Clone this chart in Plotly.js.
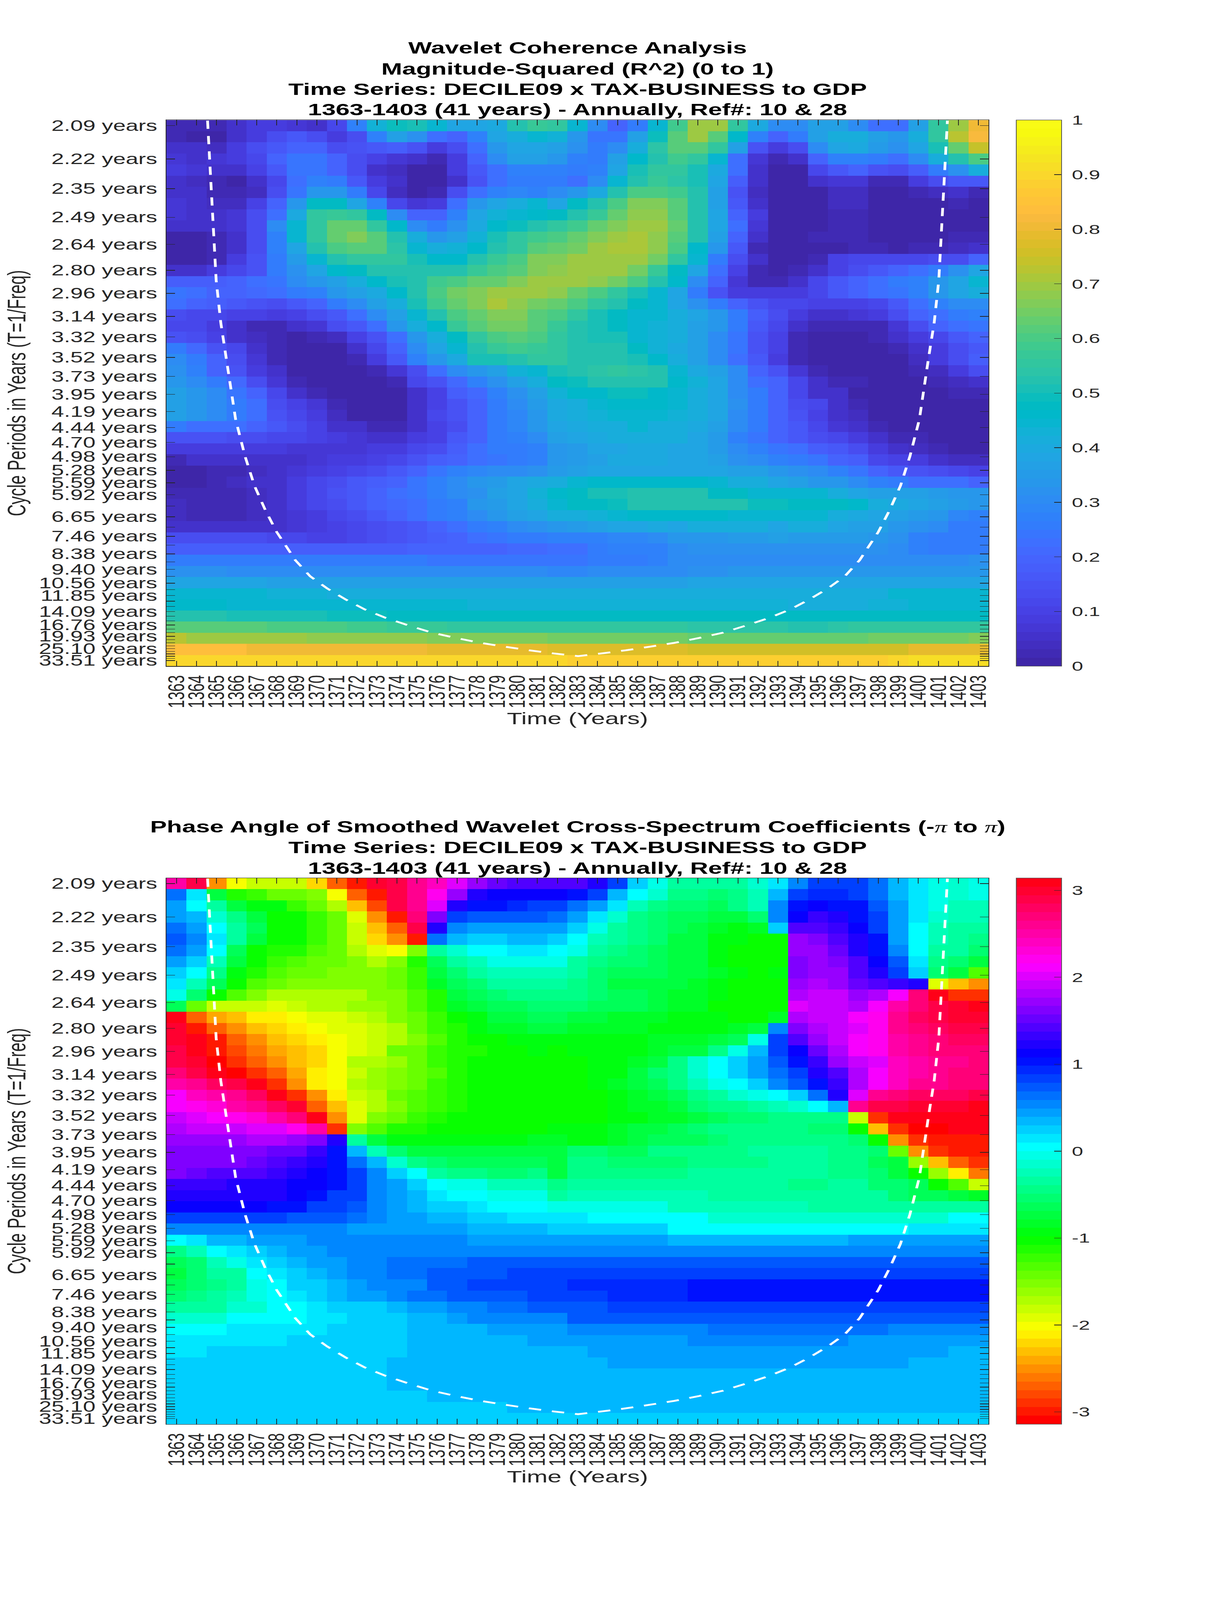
<!DOCTYPE html>
<html><head><meta charset="utf-8">
<script src="https://cdn.plot.ly/plotly-3.0.1.min.js"></script>
<style>html,body{margin:0;padding:0;background:#fff;overflow:hidden}#chart{width:3125px;height:6252px;transform-origin:0 0}</style>
</head><body><div id="chart"></div>
<script>
const years=[1363,1364,1365,1366,1367,1368,1369,1370,1371,1372,1373,1374,1375,1376,1377,1378,1379,1380,1381,1382,1383,1384,1385,1386,1387,1388,1389,1390,1391,1392,1393,1394,1395,1396,1397,1398,1399,1400,1401,1402,1403];
const periods=[2.09,2.22,2.35,2.49,2.64,2.80,2.96,3.14,3.32,3.52,3.73,3.95,4.19,4.44,4.70,4.98,5.28,5.59,5.92,6.27,6.65,7.05,7.46,7.90,8.38,8.88,9.40,9.96,10.56,11.19,11.85,12.55,13.30,14.09,14.93,15.82,16.76,17.76,18.80,19.93,21.12,22.38,23.70,25.10,26.60,28.18,29.86,31.63,33.51];
const periodLabels=["2.09 years","2.22 years","2.35 years","2.49 years","2.64 years","2.80 years","2.96 years","3.14 years","3.32 years","3.52 years","3.73 years","3.95 years","4.19 years","4.44 years","4.70 years","4.98 years","5.28 years","5.59 years","5.92 years","","6.65 years","","7.46 years","","8.38 years","","9.40 years","","10.56 years","","11.85 years","","","14.09 years","","","16.76 years","","","19.93 years","","","","25.10 years","","","","","33.51 years"];
const coiYears=[1364.55,1364.84,1364.98,1365.21,1365.48,1365.95,1366.42,1366.89,1367.43,1368.0,1368.93,1369.67,1370.51,1371.45,1372.38,1373.42,1374.62,1375.74,1376.94,1378.17,1379.38,1380.59,1381.8,1383.03,1384.2,1385.41,1386.62,1387.83,1389.06,1390.26,1391.38,1392.58,1393.62,1394.55,1395.49,1396.33,1397.07,1398.0,1398.57,1399.11,1399.58,1400.05,1400.52,1400.79,1401.02,1401.16,1401.45];
const coiPeriods=[2.072,2.543,2.867,3.193,3.511,4.309,4.971,5.667,6.407,7.266,8.77,9.95,11.06,12.35,13.73,15.21,16.93,18.77,20.5,22.37,24.1,26.0,27.9,29.8,27.9,26.0,24.1,22.37,20.5,18.77,16.93,15.21,13.73,12.35,11.06,9.95,8.77,7.266,6.407,5.667,4.971,4.309,3.511,3.193,2.867,2.543,2.072];
const coherence=[
[.02,.02,.02,.05,.08,.09,.07,.06,.12,.27,.43,.49,.5,.44,.38,.38,.4,.52,.57,.55,.45,.31,.2,.25,.45,.58,.7,.7,.56,.4,.3,.3,.36,.36,.3,.22,.22,.36,.56,.7,.8],
[.02,0,.01,.05,.08,.14,.17,.14,.09,.14,.28,.37,.32,.23,.2,.27,.38,.42,.44,.43,.33,.24,.24,.36,.49,.62,.7,.62,.46,.28,.2,.25,.37,.42,.42,.36,.33,.42,.56,.72,.82],
[.05,.05,.04,.08,.13,.17,.2,.2,.14,.15,.16,.18,.15,.09,.13,.22,.34,.38,.38,.36,.32,.25,.3,.42,.54,.62,.62,.55,.36,.15,.08,.14,.3,.38,.4,.35,.32,.38,.5,.63,.74],
[.07,.06,.07,.08,.12,.2,.24,.24,.19,.13,.1,.07,.05,.02,.09,.2,.3,.36,.36,.33,.28,.26,.36,.46,.53,.58,.55,.45,.23,.07,.03,.06,.2,.27,.27,.25,.22,.3,.42,.53,.6],
[.08,.07,.06,.06,.1,.17,.24,.24,.2,.14,.06,.04,0,0,.08,.17,.23,.27,.27,.28,.26,.27,.39,.5,.55,.55,.5,.4,.22,.05,0,.01,.11,.17,.19,.15,.13,.18,.25,.32,.42],
[.05,.04,.03,.01,.05,.11,.22,.27,.26,.17,.09,.05,0,0,.06,.15,.22,.25,.25,.25,.22,.3,.44,.53,.57,.54,.5,.38,.18,.05,0,.01,.05,.07,.07,.03,.03,.08,.13,.17,.17],
[.06,.05,.03,.03,.04,.13,.24,.34,.34,.25,.12,.04,0,.03,.13,.23,.27,.29,.28,.3,.34,.4,.52,.6,.6,.59,.52,.37,.15,.04,0,0,.01,.04,.04,.01,.01,.02,.04,.05,.03],
[.07,.05,.04,.04,.1,.2,.33,.47,.47,.38,.28,.12,.07,.08,.22,.33,.38,.42,.44,.38,.47,.52,.6,.66,.66,.62,.52,.37,.17,.06,0,0,.01,.04,.04,.01,.01,.01,.01,.03,.01],
[.07,.05,.05,.07,.13,.23,.4,.55,.57,.55,.47,.3,.2,.2,.28,.38,.43,.45,.46,.47,.53,.57,.64,.68,.68,.62,.53,.38,.2,.08,0,0,.01,.02,.02,.01,0,0,.01,0,0],
[.05,.05,.05,.07,.14,.3,.45,.56,.64,.64,.56,.46,.3,.25,.32,.4,.46,.49,.52,.55,.58,.64,.67,.69,.69,.63,.53,.38,.23,.07,0,0,.01,.02,.02,.01,0,0,0,0,0],
[0,0,.02,.05,.14,.28,.45,.55,.64,.66,.62,.53,.42,.33,.36,.43,.5,.55,.58,.6,.64,.66,.7,.71,.68,.62,.53,.37,.2,.05,0,0,.02,.02,.02,.01,0,0,.01,.02,.03],
[0,0,.02,.05,.14,.28,.38,.52,.6,.62,.62,.54,.45,.42,.43,.46,.53,.56,.62,.63,.65,.69,.71,.71,.68,.6,.46,.33,.17,.03,0,0,.01,.01,.03,.03,.01,.02,.03,.04,.05],
[.01,.01,.02,.08,.15,.25,.35,.45,.52,.56,.56,.55,.5,.46,.46,.52,.57,.6,.66,.66,.69,.7,.7,.69,.65,.55,.44,.26,.13,.05,.01,0,.03,.1,.11,.11,.11,.11,.14,.14,.2],
[.05,.05,.08,.12,.15,.25,.32,.39,.46,.47,.53,.53,.53,.53,.52,.57,.6,.62,.67,.68,.7,.7,.7,.65,.57,.47,.38,.23,.1,.03,0,.02,.06,.1,.14,.17,.2,.22,.25,.32,.38],
[.18,.18,.18,.2,.22,.24,.3,.33,.37,.41,.46,.5,.53,.58,.6,.64,.64,.66,.69,.7,.7,.68,.65,.6,.52,.46,.3,.2,.07,.03,.03,.06,.12,.17,.2,.22,.25,.27,.33,.38,.45],
[.24,.22,.2,.2,.21,.23,.26,.28,.33,.36,.4,.46,.53,.6,.65,.67,.69,.7,.69,.68,.63,.6,.56,.5,.45,.38,.25,.15,.09,.08,.08,.09,.12,.17,.2,.22,.24,.28,.34,.38,.42],
[.23,.2,.18,.16,.15,.14,.17,.2,.25,.3,.36,.42,.5,.58,.64,.67,.71,.68,.65,.64,.6,.55,.52,.48,.44,.38,.32,.25,.2,.15,.12,.12,.1,.1,.1,.12,.17,.23,.27,.3,.3],
[.13,.12,.12,.1,.1,.09,.1,.13,.16,.23,.31,.36,.44,.53,.6,.63,.66,.66,.62,.6,.55,.5,.48,.45,.44,.42,.38,.33,.26,.18,.13,.09,.06,.06,.07,.09,.13,.2,.23,.26,.28],
[.11,.11,.08,.05,.03,.03,.05,.07,.13,.17,.23,.33,.41,.46,.57,.62,.65,.65,.62,.57,.52,.5,.47,.44,.43,.41,.37,.33,.26,.17,.12,.05,.02,.02,.02,.03,.07,.13,.19,.22,.24],
[.15,.13,.1,.06,.04,.02,.01,.02,.04,.1,.15,.23,.34,.41,.47,.55,.6,.62,.6,.55,.52,.5,.5,.44,.43,.41,.37,.3,.24,.15,.1,.03,.01,0,0,.02,.05,.08,.12,.17,.2],
[.26,.21,.15,.11,.05,.02,0,0,.01,.05,.12,.2,.3,.38,.45,.53,.57,.58,.57,.55,.53,.53,.53,.47,.43,.4,.36,.3,.24,.15,.1,.03,0,0,0,.01,.03,.06,.09,.13,.17],
[.3,.25,.2,.14,.07,.03,.01,0,0,.02,.08,.17,.27,.33,.4,.5,.5,.52,.55,.55,.53,.53,.53,.5,.46,.42,.37,.3,.23,.17,.09,.03,0,0,0,0,.01,.04,.08,.13,.18],
[.32,.27,.2,.15,.09,.05,.01,0,0,0,.02,.07,.14,.23,.3,.33,.36,.43,.45,.5,.52,.54,.55,.54,.52,.45,.4,.37,.3,.2,.15,.07,.02,0,0,0,0,.02,.04,.08,.13],
[.33,.3,.26,.21,.13,.07,.03,.01,0,0,.01,.03,.12,.15,.21,.27,.32,.36,.42,.47,.49,.52,.53,.52,.52,.46,.43,.39,.3,.22,.19,.11,.06,.02,.02,0,0,.01,.02,.04,.05],
[.37,.34,.3,.24,.2,.11,.06,.03,0,0,0,.01,.05,.1,.18,.21,.27,.32,.37,.43,.46,.46,.49,.49,.46,.45,.42,.39,.31,.25,.2,.12,.06,.05,0,0,0,0,0,.02,.03],
[.36,.34,.3,.25,.22,.14,.1,.07,.02,0,0,.01,.06,.1,.15,.2,.25,.3,.35,.4,.42,.44,.46,.46,.46,.44,.42,.38,.32,.25,.2,.14,.11,.05,.02,0,0,0,0,0,.01],
[.36,.33,.3,.25,.22,.15,.11,.08,.04,.01,0,.01,.05,.11,.15,.19,.25,.29,.33,.4,.41,.43,.44,.45,.45,.43,.41,.38,.3,.25,.2,.15,.1,.06,.04,0,0,0,0,0,0],
[.25,.23,.23,.22,.19,.17,.13,.1,.06,.05,.03,.03,.05,.1,.14,.2,.25,.29,.33,.39,.4,.42,.42,.44,.42,.41,.4,.36,.3,.25,.19,.17,.12,.07,.05,.02,.01,0,0,0,0],
[.15,.15,.15,.13,.13,.12,.12,.1,.08,.07,.06,.06,.08,.1,.16,.2,.25,.27,.3,.36,.38,.4,.41,.41,.41,.41,.38,.35,.28,.24,.2,.17,.13,.12,.08,.05,.03,.02,0,0,0],
[.09,.08,.08,.08,.08,.08,.07,.07,.07,.07,.08,.09,.12,.14,.18,.23,.25,.26,.28,.33,.35,.38,.39,.4,.4,.39,.38,.35,.3,.27,.24,.22,.18,.16,.13,.08,.05,.04,.02,0,0],
[.03,.05,.05,.05,.05,.05,.06,.07,.08,.09,.1,.11,.15,.18,.2,.23,.24,.26,.28,.33,.35,.37,.4,.4,.4,.39,.38,.37,.32,.3,.27,.25,.24,.2,.18,.11,.1,.09,.05,.04,.04],
[.01,.01,.03,.03,.04,.05,.07,.08,.1,.11,.14,.17,.2,.24,.27,.29,.3,.3,.32,.35,.37,.39,.39,.39,.39,.38,.38,.38,.37,.36,.34,.32,.3,.27,.24,.2,.17,.15,.13,.12,.1],
[.01,.01,.03,.04,.05,.06,.08,.12,.14,.16,.18,.2,.24,.27,.3,.33,.35,.38,.4,.42,.45,.46,.46,.46,.46,.46,.46,.44,.42,.41,.38,.36,.33,.33,.3,.27,.25,.22,.22,.22,.2],
[.02,.03,.03,.03,.04,.06,.08,.12,.15,.17,.19,.22,.24,.28,.3,.32,.36,.38,.43,.46,.47,.51,.51,.52,.52,.52,.52,.48,.47,.45,.44,.45,.45,.42,.38,.36,.37,.36,.35,.33,.33],
[.04,.03,.03,.03,.04,.05,.08,.11,.14,.17,.19,.21,.23,.26,.28,.33,.35,.39,.42,.45,.47,.47,.49,.52,.52,.52,.52,.52,.52,.49,.49,.47,.47,.47,.46,.42,.4,.38,.36,.35,.33],
[.04,.03,.03,.03,.04,.05,.07,.09,.12,.14,.16,.2,.22,.25,.27,.3,.33,.36,.39,.41,.42,.43,.45,.46,.46,.46,.46,.46,.44,.45,.44,.44,.44,.42,.4,.38,.36,.35,.33,.29,.28],
[.06,.06,.05,.05,.05,.06,.07,.08,.1,.12,.13,.15,.17,.2,.22,.25,.27,.3,.32,.34,.35,.36,.38,.39,.4,.39,.41,.42,.42,.41,.39,.41,.41,.39,.37,.36,.34,.32,.31,.25,.25],
[.14,.14,.13,.13,.13,.12,.11,.1,.1,.12,.13,.15,.16,.18,.2,.23,.24,.25,.26,.27,.27,.28,.29,.29,.3,.33,.34,.34,.35,.35,.36,.35,.35,.35,.35,.34,.32,.27,.25,.25,.25],
[.18,.18,.18,.18,.18,.18,.18,.18,.18,.18,.18,.18,.19,.19,.2,.2,.2,.21,.21,.22,.22,.26,.27,.27,.28,.3,.32,.32,.32,.32,.32,.32,.32,.32,.32,.32,.3,.27,.26,.26,.26],
[.25,.25,.25,.25,.25,.25,.25,.25,.25,.25,.25,.25,.25,.24,.24,.24,.24,.24,.24,.24,.24,.26,.26,.26,.28,.3,.3,.31,.31,.31,.31,.31,.31,.31,.31,.31,.31,.31,.31,.31,.32],
[.32,.32,.32,.31,.31,.31,.31,.31,.31,.31,.31,.31,.3,.3,.3,.3,.3,.3,.3,.29,.29,.3,.3,.3,.31,.31,.32,.32,.33,.33,.33,.33,.33,.33,.34,.34,.34,.34,.34,.34,.34],
[.38,.38,.38,.38,.38,.37,.37,.37,.37,.37,.36,.36,.36,.36,.36,.36,.36,.36,.36,.36,.36,.36,.36,.36,.36,.37,.38,.38,.38,.38,.38,.38,.39,.39,.39,.39,.39,.39,.39,.39,.39],
[.44,.44,.44,.44,.44,.43,.43,.43,.42,.42,.42,.42,.41,.41,.41,.41,.41,.41,.41,.41,.41,.41,.41,.41,.41,.41,.41,.41,.42,.42,.42,.42,.42,.42,.42,.42,.44,.44,.44,.44,.44],
[.46,.46,.46,.45,.45,.45,.45,.45,.45,.45,.44,.44,.44,.44,.44,.43,.43,.43,.43,.43,.43,.43,.43,.43,.43,.43,.43,.43,.43,.43,.43,.42,.42,.42,.42,.43,.43,.44,.44,.45,.45],
[.53,.53,.53,.51,.51,.51,.5,.5,.49,.49,.49,.48,.48,.48,.48,.47,.47,.47,.47,.47,.47,.47,.47,.47,.47,.47,.47,.47,.47,.47,.47,.47,.47,.47,.47,.47,.47,.47,.47,.47,.48],
[.62,.61,.61,.61,.61,.6,.6,.6,.6,.59,.59,.57,.57,.57,.56,.56,.56,.56,.56,.55,.55,.55,.55,.55,.55,.55,.54,.54,.54,.54,.54,.53,.53,.54,.55,.55,.55,.55,.55,.56,.56],
[.73,.7,.7,.7,.7,.7,.7,.68,.68,.68,.68,.68,.68,.66,.66,.66,.66,.66,.66,.65,.65,.65,.65,.65,.65,.65,.64,.63,.63,.63,.63,.63,.63,.63,.63,.65,.65,.65,.65,.65,.67],
[.84,.84,.84,.84,.8,.8,.8,.8,.8,.8,.8,.8,.8,.79,.79,.79,.79,.79,.79,.78,.78,.78,.78,.77,.77,.77,.76,.76,.76,.76,.76,.76,.76,.76,.76,.76,.76,.79,.79,.79,.79],
[.9,.9,.9,.9,.9,.9,.9,.9,.9,.9,.9,.9,.9,.9,.9,.9,.9,.9,.9,.9,.89,.89,.89,.89,.89,.89,.89,.89,.89,.89,.89,.89,.89,.89,.89,.89,.9,.91,.91,.91,.91]
];
const phaseDegrees=[
[142,168,-142,-113,-105,-105,-105,-127,-153,-172,172,165,150,135,113,96,87,83,82,79,79,68,45,15,-5,-20,-22,-22,-18,-10,7,30,45,50,50,37,22,6,-4,-7,-4],
[37,7,-40,-67,-72,-80,-80,-90,-117,-152,-173,168,150,124,98,71,66,62,62,67,60,45,18,0,-10,-24,-26,-30,-24,-12,18,45,56,56,48,37,22,7,-4,-7,-4],
[26,5,-19,-40,-52,-56,-68,-80,-98,-131,-161,168,150,113,71,60,60,52,50,45,37,26,7,-15,-23,-30,-30,-34,-27,-12,33,60,66,60,57,40,25,8,-4,-12,-12],
[26,18,-7,-27,-40,-57,-60,-70,-83,-112,-142,-173,157,94,48,41,41,41,41,37,25,8,-7,-24,-33,-37,-37,-40,-40,-30,32,67,75,70,60,48,25,8,-6,-12,-12],
[38,26,0,-22,-37,-60,-60,-70,-83,-102,-130,-157,165,70,33,24,24,24,24,24,15,-4,-19,-27,-33,-37,-40,-47,-52,-47,15,82,82,75,65,48,25,0,-12,-19,-22],
[40,30,8,-22,-40,-60,-60,-70,-83,-102,-124,-146,-172,37,22,12,12,22,22,15,0,-15,-22,-27,-33,-40,-40,-52,-56,-60,-60,98,90,82,68,60,25,0,-16,-20,-24],
[37,25,0,-37,-60,-64,-67,-75,-80,-98,-108,-113,-86,-20,-7,0,0,7,7,0,-4,-20,-27,-30,-37,-40,-44,-56,-60,-60,-60,98,98,85,72,60,30,0,-20,-22,-30],
[25,12,-12,-40,-60,-71,-75,-83,-83,-90,-98,-90,-64,-37,-18,-12,-4,-4,-4,-4,-20,-27,-30,-33,-37,-44,-45,-52,-60,-60,-60,90,98,90,79,64,40,8,-24,-33,-40],
[15,0,-27,-52,-64,-75,-83,-83,-90,-90,-90,-83,-68,-45,-33,-22,-15,-15,-15,-12,-20,-30,-37,-37,-37,-40,-44,-48,-56,-60,-52,90,97,100,84,73,50,15,-30,-45,-75],
[7,-12,-37,-60,-75,-80,-87,-90,-90,-90,-88,-83,-70,-48,-37,-30,-20,-20,-20,-17,-25,-33,-40,-40,-42,-45,-48,-52,-57,-60,-58,97,105,98,87,79,75,70,-108,-131,-146],
[-4,-33,-60,-75,-90,-98,-98,-98,-98,-98,-90,-86,-75,-63,-40,-35,-30,-28,-25,-23,-27,-32,-35,-38,-45,-47,-50,-55,-58,-60,-60,105,107,107,98,105,120,157,180,-168,-168],
[-37,-83,-102,-102,-105,-107,-102,-100,-100,-95,-92,-85,-75,-62,-50,-42,-38,-35,-33,-33,-33,-35,-37,-38,-45,-47,-50,-58,-58,-60,-60,113,107,107,105,120,142,157,168,172,180],
[180,-157,-138,-130,-120,-120,-113,-108,-108,-103,-97,-90,-80,-68,-60,-52,-45,-40,-36,-38,-42,-45,-47,-48,-48,-52,-52,-55,-58,-58,-50,105,107,112,120,125,150,160,168,170,170],
[172,-173,-157,-146,-135,-127,-120,-113,-110,-108,-103,-98,-82,-70,-62,-56,-50,-47,-42,-42,-46,-47,-47,-47,-52,-52,-52,-52,-50,-45,30,90,105,109,118,128,147,157,160,165,165],
[172,180,-170,-157,-146,-135,-125,-120,-113,-107,-103,-98,-90,-75,-66,-60,-57,-55,-52,-52,-55,-55,-52,-52,-50,-50,-48,-42,-38,-5,47,83,100,112,120,129,142,150,157,160,158],
[168,180,-172,-160,-150,-138,-130,-124,-115,-110,-105,-83,-80,-70,-66,-63,-58,-57,-55,-57,-56,-55,-53,-52,-47,-45,-40,-25,-5,20,50,67,88,105,120,128,142,150,153,153,157],
[165,172,-176,-168,-157,-146,-135,-124,-116,-100,-98,-92,-82,-70,-64,-60,-60,-59,-57,-58,-57,-55,-52,-48,-40,-27,-10,0,15,25,40,60,75,97,110,118,135,142,150,150,157],
[155,165,175,-176,-165,-152,-138,-123,-115,-102,-92,-88,-80,-75,-65,-60,-60,-60,-60,-60,-57,-55,-52,-45,-33,-25,-7,0,15,25,37,50,70,84,106,120,135,145,150,153,157],
[142,150,160,168,180,-165,-142,-123,-116,-100,-95,-90,-80,-73,-64,-60,-60,-60,-60,-60,-57,-53,-48,-45,-36,-25,-15,-5,0,15,30,40,60,78,106,120,140,147,150,157,157],
[120,135,142,150,162,180,-165,-142,-120,-102,-98,-83,-75,-70,-65,-60,-60,-60,-58,-60,-60,-58,-55,-50,-42,-35,-25,-18,-10,-3,0,12,35,68,118,147,155,162,162,162,165],
[120,124,130,142,150,162,172,-157,-130,-108,-98,-87,-75,-68,-62,-60,-60,-60,-58,-60,-60,-58,-55,-50,-47,-40,-33,-27,-23,-20,-15,-8,0,20,150,165,168,172,172,172,176],
[107,115,120,125,130,142,157,180,-143,-107,-90,-83,-70,-65,-60,-60,-60,-60,-58,-58,-60,-58,-55,-52,-50,-48,-43,-37,-33,-30,-28,-28,-28,-27,-106,-168,180,178,175,175,180],
[103,107,107,112,118,118,128,142,-165,-90,-75,-67,-67,-60,-60,-60,-60,-60,-58,-55,-55,-52,-50,-45,-40,-35,-30,-28,-25,-25,-25,-28,-30,-30,-58,-135,-165,-175,-175,180,180],
[98,98,98,98,105,105,100,94,71,-22,-45,-52,-52,-55,-55,-55,-52,-52,-50,-50,-52,-52,-50,-40,-38,-37,-35,-30,-27,-27,-27,-25,-25,-25,-30,-60,-142,-165,-170,-173,-173],
[94,94,94,92,92,87,87,75,60,22,-14,-32,-40,-45,-45,-45,-43,-43,-40,-42,-32,-32,-35,-35,-27,-27,-27,-27,-27,-20,-20,-20,-20,-25,-27,-33,-81,-142,-165,-170,-170],
[90,90,90,90,88,82,76,70,60,37,20,-6,-27,-30,-35,-38,-38,-38,-35,-40,-28,-28,-30,-30,-30,-30,-27,-23,-23,-23,-20,-20,-20,-25,-25,-35,-45,-95,-135,-157,-165],
[90,88,80,83,83,78,70,66,60,46,30,12,0,-20,-23,-27,-30,-30,-27,-40,-25,-25,-25,-25,-25,-25,-22,-22,-22,-22,-22,-22,-22,-24,-24,-30,-45,-60,-92,-120,-148],
[78,78,78,72,72,70,64,62,58,46,33,25,12,0,-5,-5,-12,-15,-15,-25,-20,-20,-20,-20,-20,-20,-20,-20,-20,-20,-20,-24,-24,-20,-20,-30,-33,-37,-60,-75,-102],
[72,72,72,68,68,68,63,60,50,46,33,25,18,7,0,0,-2,-5,-5,-18,-12,-12,-12,-12,-12,-12,-12,-17,-17,-17,-17,-17,-17,-17,-17,-22,-32,-38,-38,-45,-48],
[65,65,65,65,64,60,60,50,46,42,33,25,18,12,12,7,0,0,0,-3,-4,-4,-4,-4,-4,-15,-15,-15,-15,-15,-15,-15,-20,-20,-20,-20,-20,-20,-20,-20,-20],
[48,48,48,48,48,46,44,44,40,37,30,25,25,20,20,12,12,7,7,8,8,3,0,0,0,0,0,-7,-7,-7,-7,-7,-7,-7,-7,-7,-7,-7,-7,0,0],
[30,30,33,33,33,33,33,33,33,28,28,28,25,25,25,22,18,18,18,12,12,12,12,12,12,5,5,5,5,5,5,5,5,5,5,5,5,8,8,8,8],
[0,7,17,22,25,25,25,30,30,30,30,30,30,30,30,25,25,25,25,25,25,25,25,25,25,18,18,18,18,18,18,18,18,18,24,24,24,24,24,24,24],
[-28,-16,0,7,15,20,25,25,30,30,30,30,30,33,33,33,33,33,33,33,30,30,30,30,30,30,30,30,30,30,30,30,30,30,33,33,33,33,33,33,33],
[-38,-30,-14,-5,7,15,22,25,25,30,30,37,37,37,37,41,41,41,41,41,41,41,41,41,41,41,41,41,41,41,41,41,41,41,41,41,41,41,41,41,41],
[-40,-33,-22,-18,0,7,14,20,25,30,30,38,38,42,42,42,42,46,46,46,46,46,46,46,46,46,50,50,50,50,50,50,50,50,50,50,50,50,50,50,50],
[-38,-30,-24,-17,-5,5,12,15,22,25,30,33,33,42,42,46,46,46,46,48,52,52,52,52,52,52,57,57,57,57,57,57,57,57,57,57,57,60,60,60,60],
[-33,-28,-22,-15,-5,0,7,12,20,25,25,30,38,38,42,42,44,44,48,50,50,50,53,53,53,53,57,57,57,57,57,57,57,57,57,57,57,57,57,57,57],
[-20,-20,-20,-8,-8,0,0,8,12,12,12,20,25,25,33,33,38,38,40,42,42,42,47,47,47,47,47,50,50,50,50,50,50,50,50,50,50,50,50,50,50],
[-10,-10,-10,0,0,0,0,7,7,12,12,12,20,20,25,31,31,31,33,30,40,40,40,40,44,44,44,44,44,44,44,44,44,44,44,44,44,44,44,44,40],
[0,0,0,8,8,8,8,8,12,12,12,12,20,20,20,20,28,28,28,28,33,33,33,33,33,33,33,37,37,37,37,37,37,37,37,37,33,33,33,33,33],
[7,7,7,7,7,7,12,12,12,12,12,12,20,20,20,20,20,20,25,27,27,27,27,27,27,27,33,33,33,33,33,33,33,33,28,28,28,28,28,28,28],
[8,8,12,12,12,12,12,12,12,12,12,12,20,20,20,20,20,20,20,20,20,24,24,24,24,24,24,24,24,24,24,24,24,24,24,24,24,24,24,20,20],
[12,12,12,12,12,12,12,12,12,12,12,18,18,18,18,18,18,18,18,18,18,18,24,24,24,24,24,24,24,24,24,24,24,24,24,24,24,20,20,20,20],
[12,12,12,12,12,12,12,12,12,12,12,17,17,17,17,17,17,17,17,17,17,17,17,17,17,17,17,22,22,22,22,22,22,22,18,18,18,18,18,18,18],
[12,12,12,12,12,12,12,12,12,12,12,18,18,18,18,18,18,18,18,18,18,18,18,18,18,18,18,18,18,18,18,18,18,18,18,18,18,18,18,18,18],
[12,12,12,12,12,12,12,12,12,12,12,12,12,18,18,18,18,18,18,18,18,18,18,18,18,18,18,18,18,18,18,18,18,18,18,18,18,18,18,18,18],
[12,12,12,12,12,12,12,12,12,12,12,12,12,12,12,12,12,17,17,17,17,17,17,17,17,17,17,17,17,17,17,17,17,17,17,17,17,17,17,17,17],
[12,12,12,12,12,12,12,12,12,12,12,12,12,12,12,12,12,12,12,12,12,12,12,12,12,12,12,12,12,12,12,12,12,12,12,12,12,12,12,12,12]
];
const title1=["Wavelet Coherence Analysis","Magnitude-Squared (R^2) (0 to 1)","Time Series: DECILE09 x TAX-BUSINESS to GDP","1363-1403 (41 years) - Annually, Ref#: 10 & 28"];
const title2=['Phase Angle of Smoothed Wavelet Cross-Spectrum Coefficients (-<span style="font-family:\'Liberation Serif\';font-weight:normal;font-style:italic">π</span> to <span style="font-family:\'Liberation Serif\';font-weight:normal;font-style:italic">π</span>)',"Time Series: DECILE09 x TAX-BUSINESS to GDP","1363-1403 (41 years) - Annually, Ref#: 10 & 28"];
const parula=[[.2422,.1504,.6603],[.2504,.165,.7076],[.2578,.1818,.7511],[.2647,.1978,.7952],[.2706,.2147,.8364],[.2751,.2342,.871],[.2783,.2559,.8991],[.2803,.2782,.9221],[.2813,.3006,.9414],[.281,.3228,.9579],[.2795,.3447,.9717],[.276,.3667,.9829],[.2699,.3892,.9906],[.2602,.4123,.9952],[.244,.4358,.9988],[.2206,.4603,.9973],[.1963,.4847,.9892],[.1834,.5074,.9798],[.1786,.5289,.9682],[.1764,.5499,.952],[.1687,.5703,.9359],[.154,.5902,.9218],[.146,.6091,.9079],[.138,.6276,.8973],[.1248,.6459,.8883],[.1113,.6635,.8763],[.0952,.6798,.8598],[.0689,.6948,.8394],[.0297,.7082,.8163],[.0036,.7203,.7917],[.0067,.7312,.766],[.0433,.7411,.7394],[.0964,.75,.712],[.1408,.7584,.6842],[.1717,.767,.6554],[.1938,.7758,.6251],[.2161,.7843,.5923],[.247,.7918,.5567],[.2906,.7973,.5188],[.3406,.8008,.4789],[.3909,.8029,.4354],[.4456,.8024,.3909],[.5044,.7993,.348],[.5616,.7942,.3045],[.6174,.7876,.2612],[.672,.7793,.2227],[.7242,.7698,.191],[.7738,.7598,.1646],[.8203,.7498,.1535],[.8634,.7406,.1596],[.9035,.733,.1774],[.9393,.7288,.21],[.9728,.7298,.2394],[.9956,.7434,.2371],[.997,.7659,.2199],[.9952,.7861,.2028],[.9892,.8136,.1885],[.9786,.8416,.1719],[.9676,.8714,.1497],[.961,.8979,.1282],[.9597,.9237,.1111],[.9628,.9514,.0892],[.9691,.9777,.0642],[.9769,.9839,.0805]];

const W=3125,H=6252,ink='#262626',font='Liberation Sans';
/* The sandbox window can be shorter than the design height: fit the whole figure vertically into it. */
const fit=Math.min(1,window.innerHeight/H);
if(fit<1)document.getElementById('chart').style.transform='scaleY('+fit+')';
const rgb=c=>`rgb(${Math.round(c[0]*255)},${Math.round(c[1]*255)},${Math.round(c[2]*255)})`;
function hsvBand(i){const h=i/64*6,k=Math.floor(h),f=h-k;
  return rgb([[1,f,0],[1-f,1,0],[0,1,f],[0,1-f,1],[f,0,1],[1,0,1-f]][k]);}
function stepped(colorOf){const s=[];for(let i=0;i<64;i++){const c=colorOf(i);s.push([i/64,c],[(i+1)/64,c]);}return s;}
const fTop=1/periods[0],fBot=1/periods[48],dF=(fTop-fBot)/48;
const rowF=periods.map((_,i)=>fTop-i*dF);
const phase=phaseDegrees.map(r=>r.map(d=>d*Math.PI/180));
const coiF=coiPeriods.map(t=>1/t);
const pad='\u00A0';
function bar(top,tickvals,ticktext){return {
  thicknessmode:'pixels',thickness:116,lenmode:'pixels',len:2134,
  x:2601/W,xanchor:'left',xpad:0,y:1-top/H,yanchor:'top',ypad:0,
  outlinewidth:2,outlinecolor:'#555555',ticks:'inside',ticklen:20,tickwidth:2,tickcolor:ink,
  tickmode:'array',tickvals,ticktext:ticktext.map(t=>pad+t),tickfont:{family:font,size:52,color:ink}};}
const traces=[
 {type:'heatmap',x:years,y:rowF,z:coherence,zmin:0,zmax:1,colorscale:stepped(i=>rgb(parula[i])),xaxis:'x',yaxis:'y',
  colorbar:bar(469,[0,.1,.2,.3,.4,.5,.6,.7,.8,.9,1],['0','0.1','0.2','0.3','0.4','0.5','0.6','0.7','0.8','0.9','1'])},
 {type:'scatter',mode:'lines',x:coiYears,y:coiF,xaxis:'x',yaxis:'y',showlegend:false,line:{color:'#fff',width:7,dash:'32px,28px'}},
 {type:'heatmap',x:years,y:rowF,z:phase,zmin:-Math.PI,zmax:Math.PI,colorscale:stepped(hsvBand),xaxis:'x2',yaxis:'y2',
  colorbar:bar(3431,[-3,-2,-1,0,1,2,3],['-3','-2','-1','0','1','2','3'])},
 {type:'scatter',mode:'lines',x:coiYears,y:coiF,xaxis:'x2',yaxis:'y2',showlegend:false,line:{color:'#fff',width:7,dash:'32px,28px'}}
];
const axFont={family:font,size:58,color:ink},lblFont={family:font,size:64,color:ink};
const xa=anchor=>({domain:[426/W,2530/W],range:[1362.5,1403.5],anchor,tickmode:'array',tickvals:years,ticktext:years.map(String),
  tickangle:-90,tickfont:axFont,ticks:'inside',ticklen:21,tickwidth:2,tickcolor:ink,ticklabelstandoff:10,
  showline:true,linewidth:2,linecolor:ink,mirror:'ticks',showgrid:false,zeroline:false,
  title:{text:'Time (Years)',font:lblFont,standoff:19}});
const ya=(anchor,top)=>({domain:[1-(top+2134)/H,1-top/H],range:[fBot-dF/2,fTop+dF/2],anchor,tickmode:'array',
  tickvals:periods.map(t=>1/t),ticktext:periodLabels,tickfont:axFont,ticks:'inside',ticklen:22,tickwidth:2,tickcolor:ink,ticklabelstandoff:10,
  showline:true,linewidth:2,linecolor:ink,mirror:'ticks',showgrid:false,zeroline:false,
  title:{text:'Cycle Periods in Years (T=1/Freq)',font:lblFont,standoff:13}});
const ann=(t,y)=>({text:'<b>'+t+'</b>',xref:'paper',yref:'paper',x:1478/W,y:1-y/H,xanchor:'center',yanchor:'middle',showarrow:false,font:{family:font,size:64,color:'#000'}});
const annotations=[...title1.map((t,i)=>ann(t,[187,270,349,429][i])),...title2.map((t,i)=>ann(t,[3230,3312,3392][i]))];
Plotly.newPlot('chart',traces,{width:W,height:H,margin:{l:0,r:0,t:0,b:0},paper_bgcolor:'#fff',plot_bgcolor:'#fff',showlegend:false,
  xaxis:xa('y'),yaxis:ya('x',469),xaxis2:xa('y2'),yaxis2:ya('x2',3431),annotations},{displayModeBar:false,staticPlot:true});
</script></body></html>
